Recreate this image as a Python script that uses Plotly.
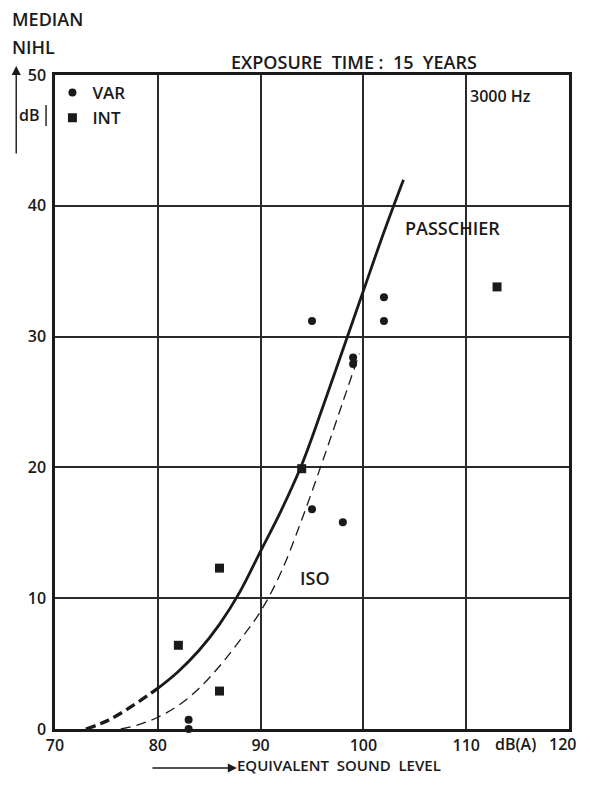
import plotly.graph_objects as go

# ---- data ----
var_x = [83, 83, 95, 98, 95, 102, 102, 99, 99]
var_y = [0.7, 0.0, 16.8, 15.8, 31.2, 33.0, 31.2, 28.4, 27.9]

int_x = [82, 86, 86, 94, 113]
int_y = [6.4, 12.3, 2.9, 19.9, 33.8]

passchier_dash_x = [73.0, 75.0, 77.0, 80.0]
passchier_dash_y = [0.0, 0.6, 1.5, 3.1]

passchier_x = [80.0, 82.0, 84.0, 86.0, 88.0, 90.0, 92.0, 94.0, 96.0, 98.0, 100.0, 102.0, 103.9]
passchier_y = [3.1, 4.4, 6.0, 8.0, 10.5, 13.6, 16.7, 20.2, 24.5, 29.0, 33.5, 38.0, 42.0]

iso_x = [76.4, 78.0, 80.0, 82.0, 84.0, 86.0, 88.0, 90.0, 92.0, 94.0, 96.0, 98.0, 99.6]
iso_y = [0.0, 0.3, 0.9, 1.8, 3.1, 4.8, 6.8, 9.0, 12.0, 16.0, 20.4, 25.0, 28.7]

x_ticks = [70, 80, 90, 100, 110, 120]
y_ticks = [0, 10, 20, 30, 40, 50]

INK = "#1a1a1a"
FONT = "Open Sans"
WEIGHT = 600

fig = go.Figure()

fig.add_trace(go.Scatter(x=passchier_dash_x, y=passchier_dash_y, mode="lines",
                         line=dict(color=INK, width=3.4, dash="10px,5px", shape="spline"),
                         showlegend=False, hoverinfo="skip", cliponaxis=False))
fig.add_trace(go.Scatter(x=passchier_x, y=passchier_y, mode="lines",
                         line=dict(color=INK, width=2.8, shape="spline", smoothing=1),
                         showlegend=False, hoverinfo="skip"))
fig.add_trace(go.Scatter(x=iso_x, y=iso_y, mode="lines",
                         line=dict(color=INK, width=1.3, dash="10px,6px", shape="spline", smoothing=1),
                         showlegend=False, hoverinfo="skip"))

fig.add_trace(go.Scatter(x=var_x, y=var_y, mode="markers", name="VAR",
                         marker=dict(symbol="circle", size=8, color=INK),
                         cliponaxis=False))
fig.add_trace(go.Scatter(x=int_x, y=int_y, mode="markers", name="INT",
                         marker=dict(symbol="square", size=9, color=INK),
                         cliponaxis=False))

axis_common = dict(showline=True, linecolor=INK, linewidth=2.5, mirror=True,
                   showgrid=True, gridcolor="#2a2a2a", gridwidth=1.5,
                   zeroline=False, ticks="",
                   tickfont=dict(family=FONT, size=16, color=INK, weight=WEIGHT))

fig.update_xaxes(range=[70, 120], tickvals=x_ticks, ticktext=[str(v) for v in x_ticks],
                 ticklabelstandoff=0, **axis_common)
fig.update_yaxes(range=[0, 50], tickvals=y_ticks, ticktext=[str(v) for v in y_ticks],
                 ticklabelstandoff=3, **axis_common)

ann = []
def txt(x, y, s, size=17, xanchor="left", yanchor="middle"):
    ann.append(dict(x=x, y=y, xref="paper", yref="paper", text=s, showarrow=False,
                    xanchor=xanchor, yanchor=yanchor,
                    font=dict(family=FONT, size=size, color=INK, weight=WEIGHT)))

# page has an 8px body margin; plot area in page pixels: x 55..572, y 75..729
OFF = 8
L, R, T, B = 55, 572, 75, 729
W, H = 590 - 2 * OFF, 785 - 2 * OFF
def px(xp): return (xp - L) / (R - L)
def py(yp): return (B - yp) / (B - T)

txt(px(10), py(19), "MEDIAN", size=18)
txt(px(10), py(47), "NIHL", size=18)
txt(px(356), py(62), "EXPOSURE  TIME :  15  YEARS", size=18, xanchor="center")
txt(px(503), py(96), "3000 Hz", size=16, xanchor="center")
txt(px(455), py(228), "PASSCHIER", size=18, xanchor="center")
txt(px(317), py(578), "ISO", size=18, xanchor="center")
txt(px(29), py(115), "dB", size=16, xanchor="center")
txt(px(518), py(744), "dB(A)", size=16, xanchor="center")
# last x tick label sits past the div edge, where plotly would hide it
txt(px(581), py(744), str(x_ticks[-1]), size=16, xanchor="right")
txt(px(236), py(777), "EQUIVALENT  SOUND  LEVEL", size=15, xanchor="left", yanchor="bottom")

# arrows (tail offsets in pixels)
ann.append(dict(x=px(238), y=py(768), xref="paper", yref="paper", ax=-86, ay=0,
                showarrow=True, arrowhead=2, arrowsize=1.3,
                arrowwidth=1.4, arrowcolor=INK, text=""))
ann.append(dict(x=px(16), y=py(66), xref="paper", yref="paper", ax=0, ay=89,
                showarrow=True, arrowhead=2, arrowsize=1.3,
                arrowwidth=1.4, arrowcolor=INK, text=""))

shapes = [dict(type="line", xref="paper", yref="paper", x0=px(46), x1=px(46),
               y0=py(105), y1=py(126), line=dict(color=INK, width=1.4))]

fig.update_layout(
    width=W, height=H,
    margin=dict(l=L - OFF, r=W - (R - OFF), t=T - OFF, b=H - (B - OFF)),
    paper_bgcolor="white", plot_bgcolor="white",
    annotations=ann, shapes=shapes,
    legend=dict(x=-0.005, y=1.0, xanchor="left", yanchor="top", bgcolor="rgba(0,0,0,0)",
                font=dict(family=FONT, size=17, color=INK, weight=WEIGHT), itemwidth=30,
                tracegroupgap=0, itemsizing="trace"),
    showlegend=True,
)

fig.write_html("out.html", config={"displayModeBar": False})
